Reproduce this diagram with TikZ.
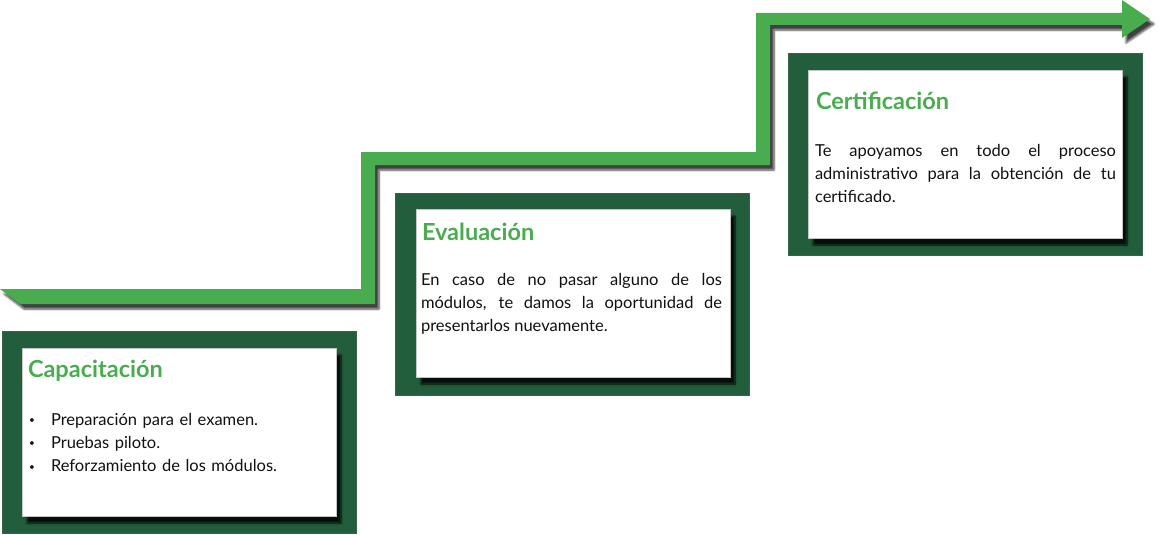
\documentclass[tikz,border=0pt]{standalone}
\usepackage{fontspec}
\setmainfont{Lato}
\usetikzlibrary{positioning,shadows.blur}
\definecolor{leaf}{HTML}{49AD50}
\definecolor{forest}{HTML}{225E3B}
\definecolor{ink}{HTML}{111111}
\newcommand{\dotmark}{\makebox[22pt][l]{\raisebox{1.5pt}{\fontsize{10}{10}\selectfont\textbullet}}}

\begin{document}
\begin{tikzpicture}[x=1pt, y=-1pt, every node/.style={inner sep=0pt, outer sep=0pt},
    frame/.style={fill=forest, draw=forest!80!gray, line width=.6pt, anchor=north west, minimum width=354pt, minimum height=202pt},
    card/.style={fill=white, draw=gray!45, line width=.6pt, anchor=north west, minimum width=314pt, minimum height=168pt,
      blur shadow={shadow xshift=5pt, shadow yshift=-7pt, shadow blur steps=8, shadow opacity=85}},
    headline/.style={anchor=base west, text=leaf, font=\fontsize{23.5}{26}\bfseries\selectfont},
    bodytext/.style={anchor=base west, text=ink, font=\fontsize{16.5}{23.3}\selectfont},
    para/.style={bodytext, text width=301pt, align=justify}]
  \useasboundingbox (0,0) rectangle (1160,535);

  % step band
  \fill[leaf, blur shadow={shadow xshift=4pt, shadow yshift=-5pt, shadow blur steps=6, shadow opacity=75}]
    (0,289) -- (361,289) -- (361,152) -- (756,152) -- (756,13) -- (1122,13) -- (1122,0)
    -- (1150,19) -- (1122,38) -- (1122,25) -- (770,25) -- (770,165) -- (375,165)
    -- (375,304) -- (20,304) -- cycle;

  % Capacitacion
  \node[frame] (capf) at (2,331) {};
  \node[card, below right=17pt and 20pt of capf.north west] (capw) {};
  \node[headline] (capt) at ([shift={(6,29)}]capw.north west) {Capacitación};
  \node[bodytext, text width=290pt, align=left] (capb) at ([shift={(7,77)}]capw.north west)
    {\dotmark Preparación para el examen.\\
     \dotmark Pruebas piloto.\\
     \dotmark Reforzamiento de los módulos.};

  % Evaluacion
  \node[frame] (evaf) at (395,193) {};
  \node[card, below right=16pt and 21pt of evaf.north west] (evaw) {};
  \node[headline] (evat) at ([shift={(6,31)}]evaw.north west) {Evaluación};
  \node[para] (evab) at ([shift={(5,76)}]evaw.north west)
    {En caso de no pasar alguno de los\linebreak módulos, te damos la oportunidad de\linebreak presentarlos nuevamente.};

  % Certificacion
  \node[frame] (cerf) at (788,53) {};
  \node[card, below right=17pt and 20pt of cerf.north west] (cerw) {};
  \node[headline] (cert) at ([shift={(8,40)}]cerw.north west) {Certificación};
  \node[para] (cerb) at ([shift={(7,86)}]cerw.north west)
    {Te apoyamos en todo el proceso\linebreak administrativo para la obtención de tu\linebreak certificado.};
\end{tikzpicture}
\end{document}
